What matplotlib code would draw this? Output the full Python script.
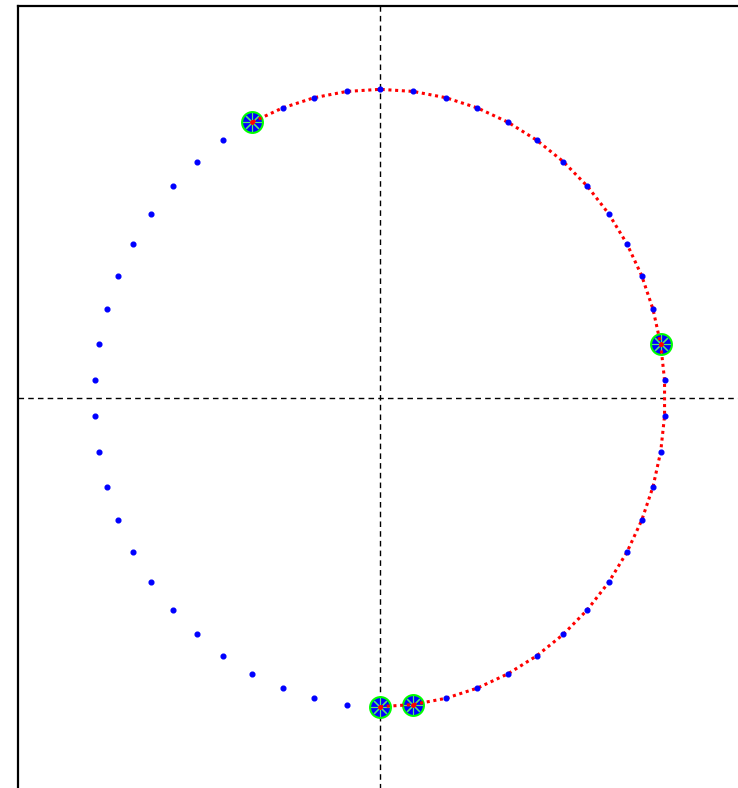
import numpy as np
import matplotlib.pyplot as plt

# points around the unit circle, starting at the bottom
n_points = 54
angles_deg = -90 + np.arange(n_points) * 360.0 / n_points
# indices of the highlighted points and of the traced path
highlight_idx = [0, 1, 15, 31]
path_idx = list(range(0, 32))

theta = np.deg2rad(angles_deg)
x = np.cos(theta)
y = np.sin(theta)

fig = plt.figure(figsize=(7.38, 7.88), dpi=100)
ax = fig.add_axes([18 / 738, -2 / 788, 724 / 738, 784 / 788])

lim = 1.27
ax.set_xlim(-lim, lim)
ax.set_ylim(-lim, lim)

# dashed axes cross
ax.axhline(0, color='black', lw=1, ls=(0, (4, 3)), zorder=1)
ax.axvline(0, color='black', lw=1, ls=(0, (4, 3)), zorder=1)

# all points except the highlighted ones
rest = [i for i in range(n_points) if i not in highlight_idx]
ax.plot(x[rest], y[rest], 'o', ms=3.4, color='#0000ff', zorder=5)

# highlighted points
hx = x[highlight_idx]
hy = y[highlight_idx]
ax.plot(hx, hy, 'o', ms=15, mfc='#0000ff', mec='#00ff00', mew=1.5, zorder=3)
ax.plot(hx, hy, marker=(8, 2, 0), ls='none', ms=13, mec='#50ee70', mew=0.8, zorder=3.5)

# traced path
ax.plot(x[path_idx], y[path_idx], color='red', lw=2.2, ls=(0, (1, 1.2)), zorder=4)
ax.plot(hx, hy, 'o', ms=2.5, color='red', zorder=4.5)

ax.set_xticks([])
ax.set_yticks([])
for s in ax.spines.values():
    s.set_linewidth(1.6)
    s.set_color('black')
ax.spines['right'].set_visible(False)
ax.spines['bottom'].set_visible(False)

fig.savefig('out.png', dpi=100)
